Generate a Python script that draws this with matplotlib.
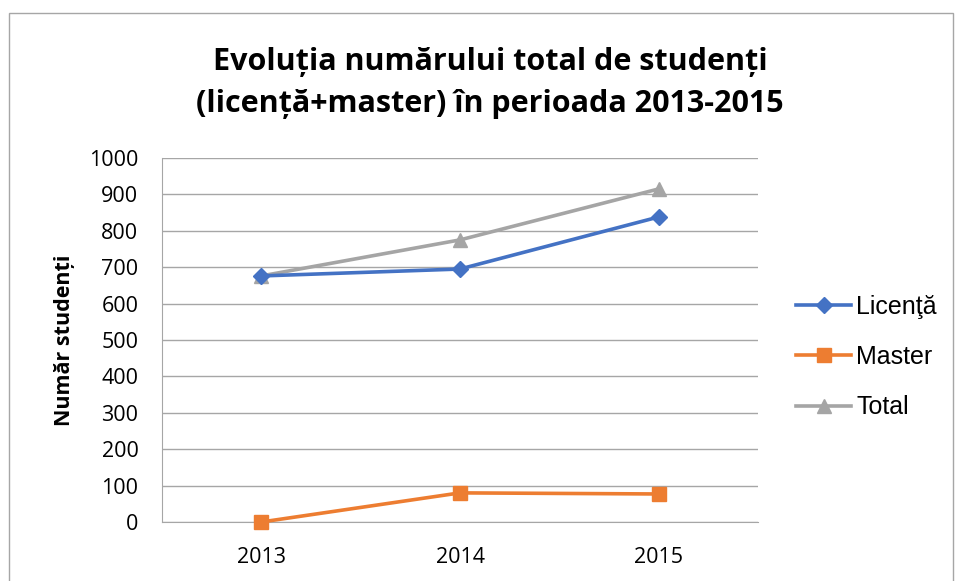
import matplotlib.pyplot as plt
from matplotlib.patches import Rectangle

years = ["2013", "2014", "2015"]
licenta = [676, 695, 838]
master = [0, 80, 77]
total = [676, 775, 915]

fig = plt.figure(figsize=(9.55, 5.81), dpi=100)
ax = fig.add_axes([162 / 955, 1 - 522 / 581, (758 - 162) / 955, (522 - 158) / 581])

x = range(len(years))
ax.plot(x, licenta, color="#4472C4", lw=2.6, marker="D", ms=8, label="Licenţă", zorder=3)
ax.plot(x, master, color="#ED7D31", lw=2.6, marker="s", ms=10, label="Master", zorder=3, clip_on=False)
ax.plot(x, total, color="#A5A5A5", lw=2.6, marker="^", ms=10, label="Total", zorder=2)

ax.set_xlim(-0.5, 2.5)
ax.set_ylim(0, 1000)
ax.set_yticks(range(0, 1001, 100))
ax.set_xticks(list(x))
ax.set_xticklabels(years)
ax.grid(axis="y", color="#A6A6A6", lw=1)
ax.set_axisbelow(True)
for s in ["top", "right"]:
    ax.spines[s].set_visible(False)
for s in ["left", "bottom"]:
    ax.spines[s].set_color("#A6A6A6")
ax.tick_params(length=0, labelsize=15.5)
ax.tick_params(axis="y", pad=17)
ax.tick_params(axis="x", pad=18)
for lab in ax.get_xticklabels() + ax.get_yticklabels():
    lab.set_fontfamily("Open Sans")

ax.set_ylabel("Număr studenți", fontsize=15.5, fontweight="bold", family="Open Sans", labelpad=10)

fig.text(490 / 955, 1 - 83 / 581, "Evoluția numărului total de studenți\n(licență+master) în perioada 2013-2015",
         ha="center", va="center", fontsize=22, fontweight="bold", family="Open Sans", linespacing=1.55)

fig.legend(loc="center left", bbox_to_anchor=(796 / 955, 1 - 357 / 581), frameon=False,
           prop={"family": "Liberation Sans", "size": 18}, handlelength=2.2, borderpad=0,
           labelspacing=1.05, handletextpad=0.2, borderaxespad=0)

fig.patches.append(Rectangle((9 / 955, -0.05), (953 - 9) / 955, 1.05 - 13 / 581,
                             transform=fig.transFigure, fill=False, ec="#A6A6A6", lw=1))

fig.savefig("out.png", dpi=100)
